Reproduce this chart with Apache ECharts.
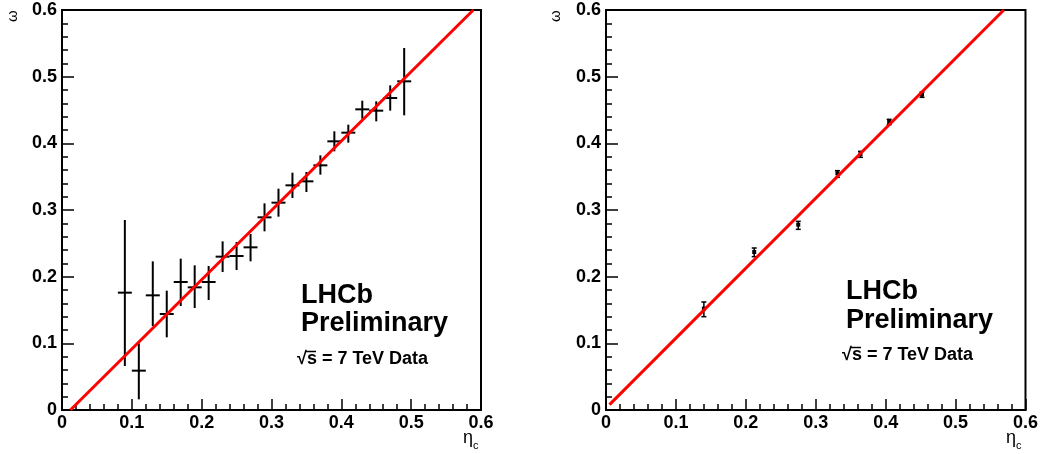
<!DOCTYPE html>
<html>
<head>
<meta charset="utf-8">
<script src="https://cdn.jsdelivr.net/npm/echarts@6/dist/echarts.min.js"></script>
<style>
  html, body { margin: 0; padding: 0; background: #fff; }
  #chart { width: 1041px; height: 454px; }
</style>
</head>
<body>
<div id="chart"></div>
<script>
// left panel: per-bin points, x error is half the bin width
var leftX = [0.09, 0.11, 0.13, 0.15, 0.17, 0.19, 0.21, 0.23, 0.25, 0.27, 0.29,
  0.31, 0.33, 0.35, 0.37, 0.39, 0.41, 0.43, 0.45, 0.47, 0.49];
var leftY = [0.176, 0.059, 0.172, 0.144, 0.192, 0.184, 0.192, 0.230, 0.231, 0.244, 0.289,
  0.311, 0.337, 0.343, 0.367, 0.403, 0.416, 0.451, 0.449, 0.468, 0.493];
var leftLo = [0.066, 0.016, 0.126, 0.109, 0.156, 0.153, 0.165, 0.207, 0.210, 0.223, 0.268,
  0.290, 0.318, 0.327, 0.353, 0.388, 0.401, 0.437, 0.433, 0.449, 0.442];
var leftHi = [0.285, 0.100, 0.223, 0.179, 0.227, 0.217, 0.216, 0.253, 0.252, 0.264, 0.310,
  0.332, 0.356, 0.357, 0.382, 0.418, 0.428, 0.464, 0.463, 0.487, 0.543];
var leftBinHalf = 0.01;
var leftFitX = [0.012, 0.589];
var leftFitY = [0.0, 0.6];

// right panel: category points
var rightX = [0.140, 0.212, 0.275, 0.331, 0.364, 0.405, 0.452];
var rightY = [0.152, 0.237, 0.278, 0.355, 0.384, 0.432, 0.473];
var rightLo = [0.140, 0.230, 0.271, 0.349, 0.379, 0.428, 0.469];
var rightHi = [0.162, 0.243, 0.283, 0.359, 0.388, 0.436, 0.477];
var rightFitX = [0.005, 0.569];
var rightFitY = [0.008, 0.6];

var axisMin = 0, axisMax = 0.6, axisStep = 0.1;
var font = 'Liberation Sans, Arial, sans-serif';

function rows(xs, ys, lo, hi) {
  return xs.map(function (x, i) { return [x, ys[i], lo[i], hi[i]]; });
}
function pairs(xs, ys) {
  return xs.map(function (x, i) { return [x, ys[i]]; });
}

var lineStyleBlack = { stroke: '#000', lineWidth: 2 };

function crossItem(params, api) {
  var x = api.value(0), y = api.value(1);
  var l = api.coord([x - leftBinHalf, y]);
  var r = api.coord([x + leftBinHalf, y]);
  var lo = api.coord([x, api.value(2)]);
  var hi = api.coord([x, api.value(3)]);
  return {
    type: 'group',
    children: [
      { type: 'line', shape: { x1: l[0], y1: l[1], x2: r[0], y2: r[1] }, style: lineStyleBlack },
      { type: 'line', shape: { x1: lo[0], y1: lo[1], x2: hi[0], y2: hi[1] }, style: lineStyleBlack }
    ]
  };
}

function capItem(params, api) {
  var x = api.value(0), y = api.value(1);
  var c = api.coord([x, y]);
  var lo = api.coord([x, api.value(2)]);
  var hi = api.coord([x, api.value(3)]);
  var st = { stroke: '#000', lineWidth: 1.5 };
  return {
    type: 'group',
    children: [
      { type: 'line', shape: { x1: lo[0], y1: lo[1], x2: hi[0], y2: hi[1] }, style: st },
      { type: 'line', shape: { x1: lo[0] - 2.5, y1: lo[1], x2: lo[0] + 2.5, y2: lo[1] }, style: st },
      { type: 'line', shape: { x1: hi[0] - 2.5, y1: hi[1], x2: hi[0] + 2.5, y2: hi[1] }, style: st },
      { type: 'rect', shape: { x: c[0] - 2, y: c[1] - 2, width: 4, height: 4 }, style: { fill: '#000' } }
    ]
  };
}

function makeXAxis(idx) {
  return {
    gridIndex: idx, type: 'value', min: axisMin, max: axisMax, interval: axisStep,
    axisLine: { onZero: false, lineStyle: { color: '#000', width: 2 } },
    axisTick: { inside: true, length: 11, lineStyle: { color: '#000', width: 1.5 } },
    minorTick: { show: true, splitNumber: 5, length: 6, lineStyle: { color: '#000', width: 1.5 } },
    axisLabel: { color: '#000', fontFamily: font, fontWeight: 'bold', fontSize: 18, margin: 4 },
    splitLine: { show: false }
  };
}
function makeYAxis(idx) {
  return {
    gridIndex: idx, type: 'value', min: axisMin, max: axisMax, interval: axisStep,
    axisLine: { onZero: false, lineStyle: { color: '#000', width: 2 } },
    axisTick: { inside: true, length: 12, lineStyle: { color: '#000', width: 1.5 } },
    minorTick: { show: true, splitNumber: 5, length: 6, lineStyle: { color: '#000', width: 1.5 } },
    axisLabel: { color: '#000', fontFamily: font, fontWeight: 'bold', fontSize: 18, margin: 5 },
    splitLine: { show: false }
  };
}

function txt(x, y, s, size, bold, rot) {
  return {
    type: 'text', x: x, y: y, rotation: rot || 0,
    style: {
      text: s, fill: '#000', font: (bold ? 'bold ' : '') + size + 'px ' + font,
      textAlign: 'left', textVerticalAlign: 'middle'
    }
  };
}
// bar of the square-root sign running over the "s"
function rootBar(x, y) {
  return { type: 'line', shape: { x1: x, y1: y, x2: x + 10, y2: y }, style: { stroke: '#000', lineWidth: 1.5 } };
}

var chartDom = document.getElementById('chart');
var myChart = echarts.init(chartDom);
var option;

option = {
  animation: false,
  grid: [
    { left: 62, top: 10, width: 419, height: 400, show: true, borderColor: '#000', borderWidth: 2 },
    { left: 606, top: 10, width: 420, height: 400, show: true, borderColor: '#000', borderWidth: 2 }
  ],
  xAxis: [makeXAxis(0), makeXAxis(1)],
  yAxis: [makeYAxis(0), makeYAxis(1)],
  graphic: [
    txt(13, 22, 'ω', 15, false, Math.PI / 2),
    txt(556, 22, 'ω', 15, false, Math.PI / 2),
    txt(463, 438, 'η', 18, false),
    txt(473, 446, 'c', 11, false),
    txt(1006, 438, 'η', 18, false),
    txt(1016, 446, 'c', 11, false),
    txt(301, 296, 'LHCb', 27, true),
    txt(301, 324, 'Preliminary', 27, true),
    txt(297, 359, '√s = 7 TeV Data', 18, true),
    rootBar(306, 351.5),
    txt(846, 292, 'LHCb', 27, true),
    txt(846, 321, 'Preliminary', 27, true),
    txt(842, 355, '√s = 7 TeV Data', 18, true),
    rootBar(851, 347.5)
  ],
  series: [
    {
      type: 'custom', xAxisIndex: 0, yAxisIndex: 0,
      renderItem: crossItem, data: rows(leftX, leftY, leftLo, leftHi), z: 2
    },
    {
      type: 'line', xAxisIndex: 0, yAxisIndex: 0, showSymbol: false,
      lineStyle: { color: '#ff0000', width: 3 }, data: pairs(leftFitX, leftFitY), z: 3
    },
    {
      type: 'custom', xAxisIndex: 1, yAxisIndex: 1,
      renderItem: capItem, data: rows(rightX, rightY, rightLo, rightHi), z: 2
    },
    {
      type: 'line', xAxisIndex: 1, yAxisIndex: 1, showSymbol: false,
      lineStyle: { color: '#ff0000', width: 3 }, data: pairs(rightFitX, rightFitY), z: 3
    }
  ]
};

option && myChart.setOption(option);
</script>
</body>
</html>
